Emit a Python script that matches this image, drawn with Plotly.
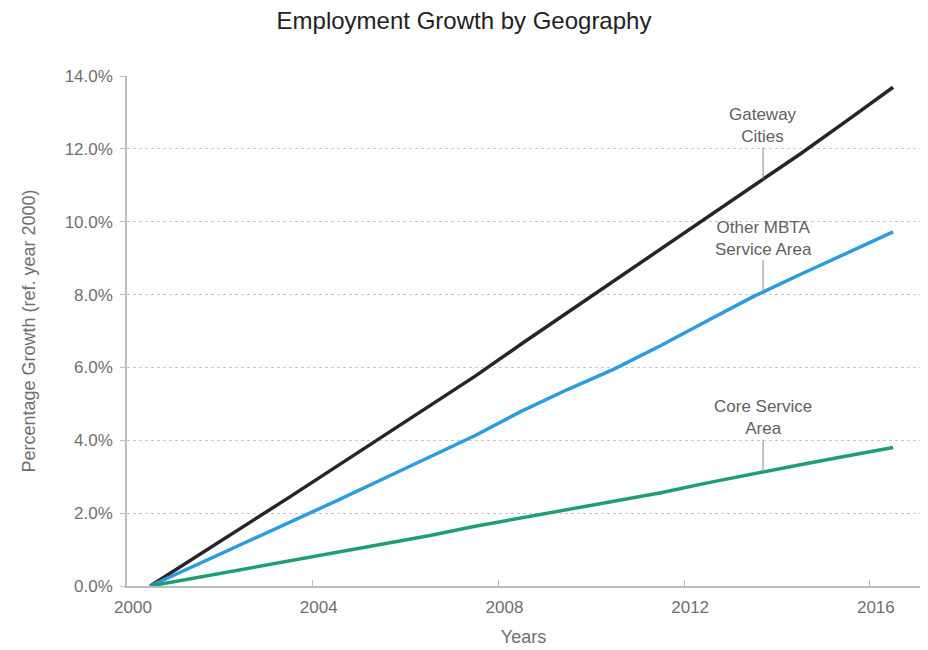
import numpy as np
import plotly.graph_objects as go

years = list(range(2000, 2017))
gateway = [0, 0.81, 1.63, 2.44, 3.27, 4.10, 4.93, 5.76, 6.65, 7.52, 8.38, 9.24, 10.11, 10.99, 11.86, 12.77, 13.69]
other_mbta = [0, 0.58, 1.16, 1.74, 2.33, 2.93, 3.54, 4.13, 4.80, 5.40, 5.96, 6.60, 7.28, 7.95, 8.55, 9.14, 9.72]
core = [0, 0.23, 0.46, 0.68, 0.91, 1.14, 1.38, 1.64, 1.87, 2.08, 2.31, 2.56, 2.83, 3.09, 3.33, 3.57, 3.80]

tick_years = [2000, 2004, 2008, 2012, 2016]
y_ticks = [0, 2, 4, 6, 8, 10, 12, 14]

series = [
    ("Gateway<br>Cities", gateway, "#262626"),
    ("Other MBTA<br>Service Area", other_mbta, "#2C9BE0"),
    ("Core Service<br>Area", core, "#1E9E74"),
]
label_year = 2013.2

FONT = "Liberation Sans, Arial, sans-serif"
GRAY = "#6f6f6f"
fig = go.Figure()
for name, vals, col in series:
    fig.add_trace(go.Scatter(x=years, y=vals, mode="lines", name=name.replace("<br>", " "),
                             line=dict(color=col, width=3.5), showlegend=False))
    fig.add_annotation(x=label_year, y=float(np.interp(label_year, years, vals)),
                       text=name, showarrow=True, arrowhead=0, arrowwidth=1,
                       arrowcolor="#888888", ax=0, ay=-54, standoff=0,
                       font=dict(family=FONT, size=17, color="#5f5f5f"), align="center")

fig.update_layout(
    width=928, height=650,
    margin=dict(l=127, r=8, t=76, b=64),
    paper_bgcolor="white", plot_bgcolor="white",
    title=dict(text="Employment Growth by Geography", x=0.5, xanchor="center",
               y=0.968, yanchor="middle",
               font=dict(family=FONT, size=24, color="#222222")),
    font=dict(family=FONT, color=GRAY, size=17),
)
fig.update_xaxes(
    range=[1999.5, 2016.58], automargin=False,
    tickvals=[y - 0.5 for y in tick_years], ticktext=[str(y) for y in tick_years],
    ticks="inside", ticklen=6, tickcolor="#bbbbbb", ticklabelshift=6, ticklabelstandoff=5,
    showline=True, linecolor="#bbbbbb", linewidth=1.5, showgrid=False, zeroline=False,
    tickfont=dict(family=FONT, size=17, color=GRAY),
    title=dict(text="Years", font=dict(family=FONT, size=18, color=GRAY), standoff=14),
)
fig.update_yaxes(
    range=[0, 14], automargin=False, tickvals=y_ticks, ticktext=[f"{v:.1f}%" for v in y_ticks],
    ticks="outside", ticklen=5, tickcolor="#bbbbbb", ticklabelstandoff=4,
    showline=True, linecolor="#bbbbbb", linewidth=1.5,
    showgrid=True, gridcolor="#c8c8c8", griddash="dot", gridwidth=1, zeroline=False,
    tickfont=dict(family=FONT, size=17, color=GRAY),
    title=dict(text="Percentage Growth (ref. year 2000)", font=dict(family=FONT, size=18, color=GRAY), standoff=24),
)
fig.write_html("out.html")
